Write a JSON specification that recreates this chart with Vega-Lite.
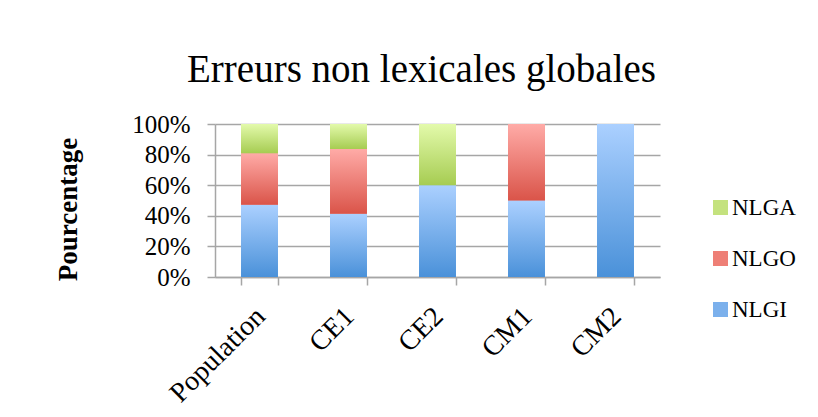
{
  "$schema": "https://vega.github.io/schema/vega-lite/v6.json",
  "width": 445,
  "height": 153,
  "autosize": {"type": "none"},
  "padding": {"left": 215, "top": 124, "right": 158, "bottom": 140},
  "background": "white",
  "title": {
    "text": "Erreurs non lexicales globales",
    "font": "Liberation Serif",
    "fontSize": 39,
    "fontWeight": "normal",
    "color": "#000000",
    "offset": 22,
    "dx": -16
  },
  "data": {
    "values": [
      {"groupe": "Population", "type": "NLGI", "valeur": 47.2},
      {"groupe": "Population", "type": "NLGO", "valeur": 33.7},
      {"groupe": "Population", "type": "NLGA", "valeur": 19.1},
      {"groupe": "CE1", "type": "NLGI", "valeur": 41.3},
      {"groupe": "CE1", "type": "NLGO", "valeur": 42.4},
      {"groupe": "CE1", "type": "NLGA", "valeur": 16.3},
      {"groupe": "CE2", "type": "NLGI", "valeur": 60},
      {"groupe": "CE2", "type": "NLGO", "valeur": 0},
      {"groupe": "CE2", "type": "NLGA", "valeur": 40},
      {"groupe": "CM1", "type": "NLGI", "valeur": 50},
      {"groupe": "CM1", "type": "NLGO", "valeur": 50},
      {"groupe": "CM1", "type": "NLGA", "valeur": 0},
      {"groupe": "CM2", "type": "NLGI", "valeur": 100},
      {"groupe": "CM2", "type": "NLGO", "valeur": 0},
      {"groupe": "CM2", "type": "NLGA", "valeur": 0}
    ]
  },
  "transform": [
    {"calculate": "indexof(['NLGI','NLGO','NLGA'], datum.type)", "as": "rang"}
  ],
  "encoding": {
    "x": {
      "field": "groupe",
      "type": "nominal",
      "sort": ["Population", "CE1", "CE2", "CM1", "CM2"],
      "scale": {"paddingInner": 0.585, "paddingOuter": 0.2925},
      "axis": {
        "title": null,
        "labelAngle": -45,
        "labelFont": "Liberation Serif",
        "labelFontSize": 28,
        "labelColor": "#000000",
        "labelPadding": 17,
        "labelOffset": -9,
        "tickBand": "extent",
        "tickSize": 8,
        "tickColor": "#a6a6a6",
        "tickWidth": 1.5,
        "domainColor": "#a6a6a6",
        "domainWidth": 1.5
      }
    },
    "y": {
      "field": "valeur",
      "type": "quantitative",
      "stack": "normalize",
      "scale": {"domain": [0, 1]},
      "axis": {
        "title": "Pourcentage",
        "titleFont": "Liberation Serif",
        "titleFontSize": 27,
        "titleFontWeight": "bold",
        "titleColor": "#000000",
        "titleX": -133,
        "titleY": 85,
        "values": [0, 0.2, 0.4, 0.6, 0.8, 1],
        "format": ".0%",
        "labelFont": "Liberation Serif",
        "labelFontSize": 25,
        "labelColor": "#000000",
        "labelPadding": 17,
        "tickSize": 8,
        "tickColor": "#a6a6a6",
        "tickWidth": 1.5,
        "gridColor": "#a6a6a6",
        "gridWidth": 1.5,
        "domainColor": "#a6a6a6",
        "domainWidth": 1.5
      }
    },
    "order": {"field": "rang", "type": "quantitative"}
  },
  "layer": [
    {
      "mark": {"type": "bar"},
      "encoding": {
        "color": {
          "field": "type",
          "type": "nominal",
          "scale": {
            "domain": ["NLGA", "NLGO", "NLGI"],
            "range": ["#c4e27e", "#ee7f76", "#7bb0ec"]
          },
          "legend": {
            "title": null,
            "orient": "none",
            "legendX": 494,
            "legendY": 72,
            "symbolType": "square",
            "symbolSize": 225,
            "symbolStrokeWidth": 0,
            "labelFont": "Liberation Serif",
            "labelFontSize": 23,
            "labelColor": "#000000",
            "labelOffset": 0,
            "rowPadding": 27,
            "symbolOpacity": 1
          }
        }
      }
    },
    {
      "mark": {"type": "bar"},
      "encoding": {
        "fill": {
          "condition": [
            {"test": "datum.type === 'NLGA'", "value": {"gradient": "linear", "x1": 0, "y1": 0, "x2": 0, "y2": 1, "stops": [{"offset": 0, "color": "#e3faab"}, {"offset": 1, "color": "#a6cc52"}]}},
            {"test": "datum.type === 'NLGO'", "value": {"gradient": "linear", "x1": 0, "y1": 0, "x2": 0, "y2": 1, "stops": [{"offset": 0, "color": "#ffaba7"}, {"offset": 1, "color": "#da5449"}]}}
          ],
          "value": {"gradient": "linear", "x1": 0, "y1": 0, "x2": 0, "y2": 1, "stops": [{"offset": 0, "color": "#abd0ff"}, {"offset": 1, "color": "#4a91d9"}]}
        }
      }
    }
  ],
  "config": {
    "view": {"stroke": null}
  }
}
